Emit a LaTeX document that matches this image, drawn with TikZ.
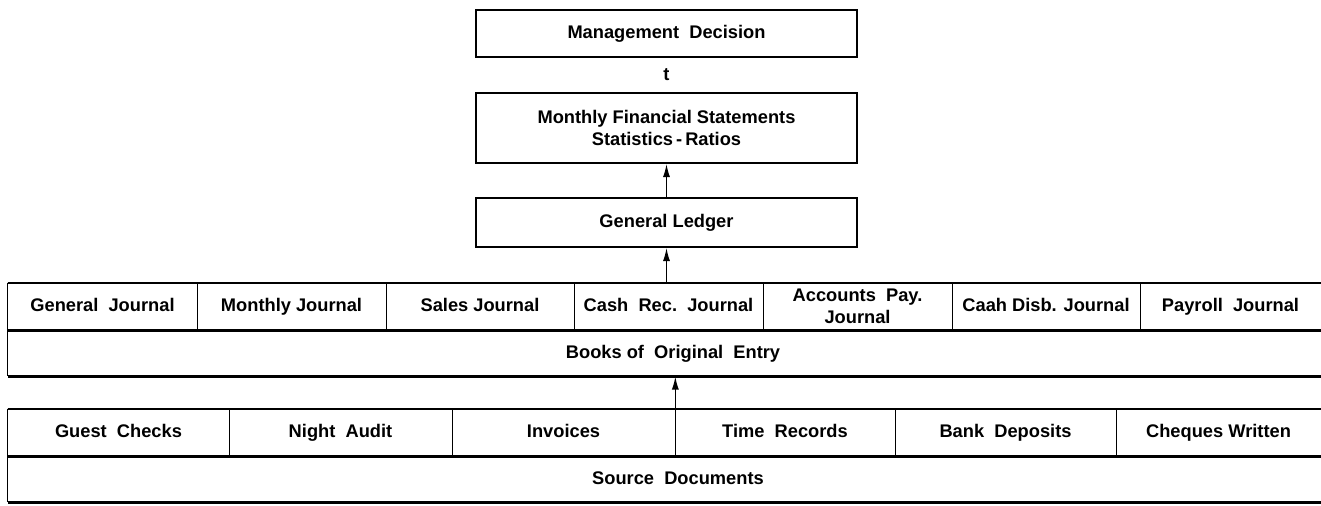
\documentclass[tikz,border=0pt]{standalone}
\usepackage{fontspec}
\setmainfont{Liberation Sans}
\usetikzlibrary{positioning, calc, arrows.meta}

\tikzset{
  box/.style={draw, line width=1pt, minimum width=7.62cm, inner sep=0pt, align=center},
  cell/.style={inner sep=0pt, minimum height=0.94cm, align=center, text height=1.6ex, text depth=0.45ex},
  rule/.style={line width=1.3pt},
  sep/.style={line width=0.85pt},
  up/.style={line width=0.85pt, -{Latex[length=7.5pt,width=4pt]}},
}

\begin{document}
\begin{tikzpicture} [x=0.02cm, y=-0.02cm, node distance = 1.89cm, on grid,
  font=\bfseries\fontsize{10.4}{12.5}\selectfont]
\useasboundingbox (0,0) rectangle (1321,505);

% reporting stack
\node[box, minimum height=0.94cm] (md) at (666.5,33.5) {Management\ \ Decision};
\node[box, minimum height=1.4cm] (mfs) [below = of md] {Monthly Financial Statements\\Statistics\,-\,Ratios};
\node[box, minimum height=0.98cm] (gl) [below = of mfs] {General Ledger};
\node (t) at ($(md.south)!0.5!(mfs.north)$) {t};

% journals
\node[cell, minimum width=3.78cm] (gj) at (102.5,306.5) {General\ \ Journal};
\node[cell, minimum width=3.78cm] (mj) at (291.5,306.5) {Monthly Journal};
\node[cell, minimum width=3.76cm] (sj) at (480,306.5) {Sales Journal};
\node[cell, minimum width=3.78cm] (crj) at (668.5,306.5) {Cash\ \ Rec.\ \ Journal};
\node[cell, minimum width=3.78cm, text height=, text depth=] (apj) at (857.5,306.5) {Accounts\ \ Pay.\\Journal};
\node[cell, minimum width=3.76cm] (cdj) at (1046,306.5) {Caah Disb. Journal};
\node[cell, minimum width=3.62cm] (prj) at (1230.5,306.5) {Payroll\ \ Journal};
\node[cell, minimum height=0.92cm] (books) at (673,353) {Books of\ \ Original\ \ Entry};

% source documents
\node[cell, minimum width=4.42cm] (gc) at (118.5,432.5) {Guest\ \ Checks};
\node[cell, minimum width=4.46cm] (na) at (340.5,432.5) {Night\ \ Audit};
\node[cell, minimum width=4.46cm] (inv) at (563.5,432.5) {Invoices};
\node[cell, minimum width=4.40cm] (tr) at (785,432.5) {Time\ \ Records};
\node[cell, minimum width=4.42cm] (bd) at (1005.5,432.5) {Bank\ \ Deposits};
\node[cell, minimum width=4.10cm] (cw) at (1218.5,432.5) {Cheques Written};
\node[cell, minimum height=0.92cm] (src) at (678,479) {Source\ \ Documents};

% journal table lines
\draw[rule] (gj.north west) -- (prj.north east);
\draw[rule] (gj.south west) -- (prj.south east);
\draw[rule] (gj.west |- books.south) -- (prj.east |- books.south);
\draw[sep] (gj.north west) -- (gj.west |- books.south);
\draw[sep] (gj.north east) -- (gj.south east);
\draw[sep] (mj.north east) -- (mj.south east);
\draw[sep] (sj.north east) -- (sj.south east);
\draw[sep] (crj.north east) -- (crj.south east);
\draw[sep] (apj.north east) -- (apj.south east);
\draw[sep] (cdj.north east) -- (cdj.south east);

% source table lines
\draw[rule] (gc.north west) -- (cw.north east);
\draw[rule] (gc.south west) -- (cw.south east);
\draw[rule] (gc.west |- src.south) -- (cw.east |- src.south);
\draw[sep] (gc.north west) -- (gc.west |- src.south);
\draw[sep] (gc.north east) -- (gc.south east);
\draw[sep] (na.north east) -- (na.south east);
\draw[sep] (tr.north east) -- (tr.south east);
\draw[sep] (bd.north east) -- (bd.south east);

% flow upwards
\draw[up] (inv.south east) -- (inv.east |- books.south);
\draw[up] (gl.south |- gj.north) -- (gl.south);
\draw[up] (gl.north) -- (mfs.south);

\end{tikzpicture}
\end{document}
